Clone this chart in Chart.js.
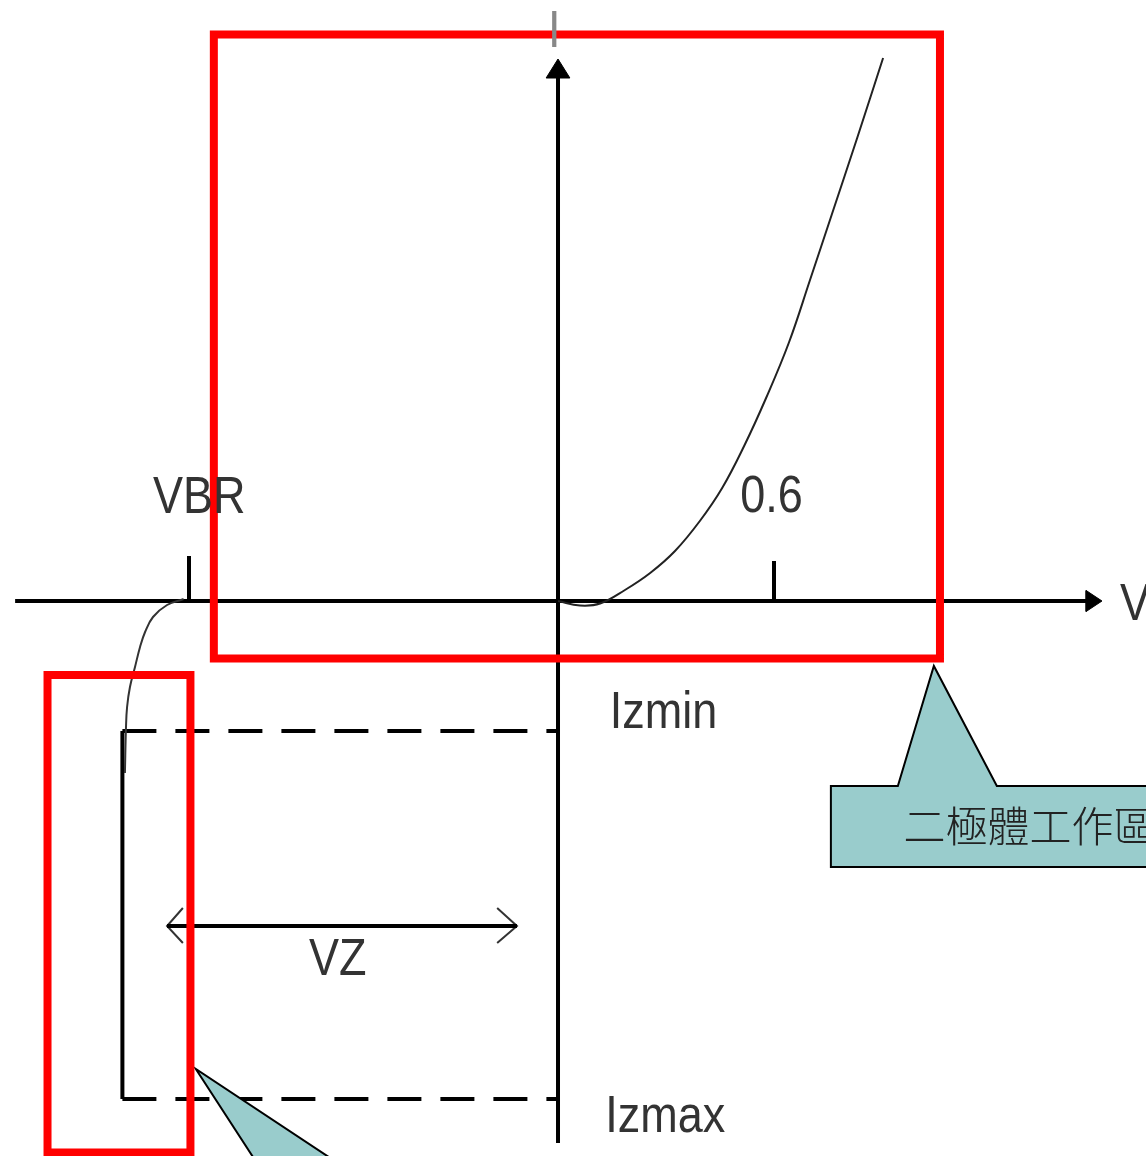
<!DOCTYPE html>
<html><head><meta charset="utf-8">
<script src="https://cdn.jsdelivr.net/npm/chart.js@4/dist/chart.umd.min.js"></script>
<style>html,body{margin:0;padding:0;background:#fff;overflow:hidden}canvas{display:block}</style>
</head><body>
<canvas id="c" width="1146" height="1156"></canvas>
<script>
// ---- Data (voltage V on x, current in arbitrary units on y) ----
const X_RANGE = [-1.55, 1.6333];
const Y_RANGE = [-5.55, 6.01];

// Forward-bias curve
const fwdV = [0, 0.061, 0.117, 0.186, 0.256, 0.325, 0.394, 0.456, 0.517, 0.578, 0.642, 0.700, 0.761, 0.831, 0.903];
const fwdI = [0, -0.045, -0.025, 0.11, 0.28, 0.50, 0.80, 1.13, 1.55, 2.03, 2.59, 3.21, 3.87, 4.63, 5.43];

// Reverse breakdown curve (knee)
const revV = [-1.203, -1.2, -1.197, -1.189, -1.175, -1.161, -1.147, -1.125, -1.086, -1.04];
const revI = [-1.72, -1.26, -1.06, -0.86, -0.66, -0.46, -0.31, -0.16, -0.04, 0.02];

// Key levels
const VBR = -1.025;
const V_FWD = 0.6;
const V_KNEE = -1.21;
const IZMIN = -1.30;
const IZMAX = -4.98;
const VZ_SPAN = [-1.086, -0.114];
const VZ_LEVEL = -3.25;

// Axes extents
const axisXV = [-1.508, 1.481];
const axisYI = [-5.42, 5.3];
const tickVBR_I = [0, 0.45];
const tickFwd_I = [0, 0.40];

// Labels
const labelText = ['I', 'V', 'VBR', '0.6', 'Izmin', 'Izmax', 'VZ'];
const labelV = [-0.028, 1.561, -1.125, 0.506, 0.144, 0.131, -0.692];
const labelI = [5.54, -0.19, 0.88, 0.89, -1.27, -5.31, -3.74];

// Highlight boxes
const box1V = [-0.956, 1.061];
const box1I = [-0.575, 5.665];
const box2V = [-1.418, -1.021];
const box2I = [-5.515, -0.74];

// Callouts
const call1V = [0.758, 0.944, 1.044, 1.219, 1.672, 1.672, 0.758, 0.758, 0.944];
const call1I = [-1.85, -1.85, -0.65, -1.85, -1.85, -2.66, -2.66, -1.85, -1.85];
const call1Text = '二極體工作區';
const call1TextV = 0.960;
const call1TextI = -2.25;
const call2V = [-1.006, -0.578, -0.822, -1.006, -0.578];
const call2I = [-4.68, -5.70, -5.70, -4.68, -5.70];

// Arrowheads
const arrXV = [1.511, 1.467, 1.467, 1.511];
const arrXI = [0, 0.105, -0.105, 0];
const arrYV = [0, 0.033, -0.033, 0];
const arrYI = [5.42, 5.23, 5.23, 5.42];
const chevLV = [-1.042, -1.086, -1.042];
const chevRV = [-0.169, -0.114, -0.169];
const chevI = [-3.07, -3.25, -3.42];

// ---- Build datasets ----
function pts(xs, ys) { return xs.map((x, i) => ({ x: x, y: ys[i] })); }
function line(xs, ys, o) {
  return Object.assign({ data: pts(xs, ys), showLine: true, pointRadius: 0, pointHoverRadius: 0,
    borderColor: '#000', borderWidth: 4, fill: false, tension: 0, order: 5 }, o || {});
}
function rect(v, i) {
  return pts([v[0], v[1], v[1], v[0], v[0], v[1]], [i[1], i[1], i[0], i[0], i[1], i[1]]);
}

const datasets = [
  // highlight boxes (on top)
  Object.assign(line([], []), { data: rect(box1V, box1I), borderColor: '#ff0000', borderWidth: 8, order: 0, borderJoinStyle: 'miter' }),
  Object.assign(line([], []), { data: rect(box2V, box2I), borderColor: '#ff0000', borderWidth: 8, order: 0, borderJoinStyle: 'miter' }),
  // callouts
  line(call1V, call1I, { fill: 'shape', backgroundColor: '#99cccc', borderColor: '#000', borderWidth: 2, order: 1 }),
  line(call2V, call2I, { fill: 'shape', backgroundColor: '#99cccc', borderColor: '#000', borderWidth: 2, order: 1 }),
  // axes
  line(axisXV, [0, 0], { order: 4 }),
  line([0, 0], axisYI, { order: 4 }),
  line(arrXV, arrXI, { fill: 'shape', backgroundColor: '#000', borderWidth: 1, order: 4 }),
  line(arrYV, arrYI, { fill: 'shape', backgroundColor: '#000', borderWidth: 1, order: 4 }),
  // ticks
  line([VBR, VBR], tickVBR_I, { order: 4 }),
  line([V_FWD, V_FWD], tickFwd_I, { order: 4 }),
  // Iz levels
  line([V_KNEE, 0], [IZMIN, IZMIN], { borderDash: [34, 19], order: 4 }),
  line([V_KNEE, 0], [IZMAX, IZMAX], { borderDash: [34, 19], order: 4 }),
  line([V_KNEE, V_KNEE], [IZMIN, IZMAX], { order: 4 }),
  // VZ arrow
  line(VZ_SPAN, [VZ_LEVEL, VZ_LEVEL], { order: 4 }),
  line(chevLV, chevI, { borderWidth: 2, borderColor: '#333', order: 4 }),
  line(chevRV, chevI, { borderWidth: 2, borderColor: '#333', order: 4 }),
  // curves
  line(fwdV, fwdI, { borderWidth: 2, borderColor: '#222', tension: 0.4, order: 3 }),
  line(revV, revI, { borderWidth: 2, borderColor: '#333', tension: 0.4, order: 3 })
];

const textPlugin = {
  id: 'diagramText',
  afterDatasetsDraw(chart) {
    const ctx = chart.ctx, xs = chart.scales.x, ys = chart.scales.y;
    ctx.save();
    ctx.textAlign = 'left';
    ctx.textBaseline = 'alphabetic';
    ctx.font = '45px "Liberation Sans", Arial, sans-serif';
    labelText.forEach((t, i) => {
      ctx.fillStyle = t === 'I' ? '#888' : '#333';
      ctx.save();
      ctx.translate(xs.getPixelForValue(labelV[i]), ys.getPixelForValue(labelI[i]));
      ctx.scale(1, 1.16);
      ctx.fillText(t, 0, 0);
      ctx.restore();
    });
    ctx.font = '300 42px "Noto Sans CJK TC", "Noto Sans CJK SC", sans-serif';
    ctx.fillStyle = '#222';
    ctx.textBaseline = 'middle';
    ctx.fillText(call1Text, xs.getPixelForValue(call1TextV), ys.getPixelForValue(call1TextI));
    ctx.restore();
  }
};

new Chart(document.getElementById('c'), {
  type: 'scatter',
  data: { datasets: datasets },
  options: {
    responsive: false,
    animation: false,
    devicePixelRatio: 1,
    layout: { padding: 0 },
    plugins: { legend: { display: false }, tooltip: { enabled: false } },
    events: [],
    scales: {
      x: { type: 'linear', min: X_RANGE[0], max: X_RANGE[1], display: false },
      y: { type: 'linear', min: Y_RANGE[0], max: Y_RANGE[1], display: false }
    }
  },
  plugins: [textPlugin]
});
</script>
</body></html>
